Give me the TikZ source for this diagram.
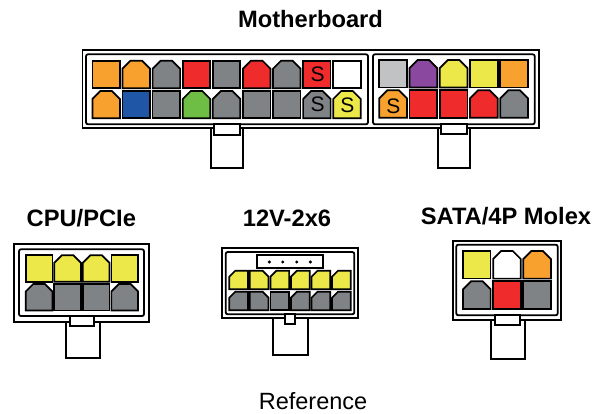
\documentclass[tikz,border=0pt]{standalone}
\usepackage{fontspec}
\setmainfont{Liberation Sans}
\definecolor{pinorange}{HTML}{F8A12F}
\definecolor{pinred}{HTML}{EF2B2B}
\definecolor{pingrey}{HTML}{808385}
\definecolor{pinyellow}{HTML}{ECE84A}
\definecolor{pinblue}{HTML}{2056A6}
\definecolor{pingreen}{HTML}{6EBE46}
\definecolor{pinpurple}{HTML}{8A489E}
\definecolor{pinlight}{HTML}{C1C2C4}
\tikzset{
  shellline/.style={draw=black,line width=1.9pt,fill=white,line join=miter},
  innerline/.style={draw=black,line width=1.8pt,rounded corners=2pt},
  pinline/.style={draw=black,line width=1.7pt,line join=miter},
  heading/.style={font=\fontsize{23.7}{26}\selectfont\bfseries,anchor=base,inner sep=0pt},
  caption/.style={font=\fontsize{23.5}{26}\selectfont,anchor=base,inner sep=0pt},
  pinlabel/.style={font=\fontsize{21}{23}\selectfont,inner sep=0pt},
  dotmark/.style={fill=black,circle,inner sep=0pt,minimum size=3.4pt}
}
% start x, pitch, top y, width, height, list colour/left chamfer/right chamfer
\newcommand{\pinrow}[6]{%
  \foreach \pcol/\pl/\pr [count=\i from 0] in {#6}{%
    \draw[pinline,fill=\pcol]
      ({#1+\i*#2},{#3+\pl}) -- ({#1+\i*#2+\pl},{#3})
      -- ({#1+\i*#2+#4-\pr},{#3}) -- ({#1+\i*#2+#4},{#3+\pr})
      -- ({#1+\i*#2+#4},{#3+#5}) -- ({#1+\i*#2},{#3+#5}) -- cycle;
  }%
}
\begin{document}
\begin{tikzpicture}[x=1pt,y=-1pt]
\useasboundingbox (0,0) rectangle (604,414);
% ---- Motherboard
\node[heading] (mbtitle) at (310.5,27.3) {Motherboard};
\draw[shellline] (210.7,120) rectangle (243.3,167.7);
\draw[shellline] (437.7,120) rectangle (470.3,167.7);
\draw[shellline] (82.5,49.7) rectangle (538.7,127.7);
\draw[innerline] (86,54.3) rectangle (368,124.3);
\draw[innerline] (373,54.3) rectangle (534.7,124.3);
\draw[pinline,fill=white] (214,124.3) rectangle (240,134.7);
\draw[pinline,fill=white] (441.3,124.3) rectangle (466.7,134.2);
\pinrow{92.4}{30.1}{60.7}{27.5}{27.5}{pinorange/0/0,pinorange/8/8,pingrey/8/8,pinred/0/0,pingrey/0/0,pinred/8/8,pingrey/8/8,pinred/0/0,white/0/0}
\pinrow{92.4}{30.1}{91}{27.5}{27.3}{pinorange/8/8,pinblue/0/0,pingrey/0/0,pingreen/8/8,pingrey/8/8,pingrey/0/0,pingrey/0/0,pingrey/8/8,pinyellow/8/8}
\pinrow{379.3}{30.25}{60}{27.6}{27.6}{pinlight/0/0,pinpurple/8/8,pinyellow/8/8,pinyellow/0/0,pinorange/0/0}
\pinrow{379.3}{30.25}{90.3}{27.6}{27.4}{pinorange/8/8,pinred/0/0,pinred/0/0,pinred/8/8,pingrey/8/8}
\node[pinlabel] (s1) at (317.6,74.4) {S};
\node[pinlabel] (s2) at (317.6,104) {S};
\node[pinlabel] (s3) at (347.4,105) {S};
\node[pinlabel] (s4) at (393.3,105.8) {S};
% ---- CPU/PCIe
\node[heading] (cputitle) at (81.3,226) {CPU/PCIe};
\draw[shellline] (65.7,315) rectangle (100,358.3);
\draw[shellline] (14,244) rectangle (149,321.7);
\draw[innerline] (19,249.3) rectangle (144,316);
\draw[pinline,fill=white] (69.7,316) rectangle (93.7,325.7);
\pinrow{25.7}{28.55}{255.3}{26.7}{26.4}{pinyellow/0/0,pinyellow/7.5/7.5,pinyellow/7.5/7.5,pinyellow/0/0}
\pinrow{25.7}{28.55}{284}{26.7}{26.4}{pingrey/7.5/7.5,pingrey/0/0,pingrey/0/0,pingrey/7.5/7.5}
% ---- 12V-2x6
\node[heading] (hvtitle) at (287,226) {12V-2x6};
\draw[shellline] (273,312) rectangle (307.7,355.3);
\draw[shellline] (222,247.7) rectangle (358,318.3);
\draw[innerline] (225.7,252) rectangle (354.3,314.3);
\draw[pinline,fill=white] (284.7,314.3) rectangle (295.3,324);
\draw[pinline,fill=white] (257.3,255.3) rectangle (322.7,268.3);
\node[dotmark] (d1) at (269.3,262) {};
\node[dotmark] (d2) at (282.7,262) {};
\node[dotmark] (d3) at (296.7,262) {};
\node[dotmark] (d4) at (310.3,262) {};
\pinrow{229.3}{20.55}{270.7}{18.7}{18.6}{pinyellow/6/0,pinyellow/0/6,pinyellow/6/0,pinyellow/6/0,pinyellow/6/0,pinyellow/6/0}
\pinrow{229.3}{20.55}{291.7}{18.7}{18.6}{pingrey/6/0,pingrey/0/6,pingrey/0/0,pingrey/6/0,pingrey/6/0,pingrey/6/0}
% ---- SATA/4P Molex
\node[heading] (satatitle) at (506,224) {SATA/4P Molex};
\draw[shellline] (491,314) rectangle (524.7,359.3);
\draw[shellline] (452.7,241.3) rectangle (561,320);
\draw[innerline] (456.3,244.7) rectangle (557.7,315.3);
\draw[pinline,fill=white] (494.7,315.3) rectangle (520.3,325.3);
\pinrow{463}{30.15}{251}{27.6}{27.6}{pinyellow/0/0,white/8/8,pinorange/8/8}
\pinrow{463}{30.15}{281.3}{27.6}{27.6}{pingrey/8/8,pinred/0/0,pingrey/0/0}
% ---- Caption
\node[caption] (reftitle) at (313,409.3) {Reference};
\end{tikzpicture}
\end{document}
